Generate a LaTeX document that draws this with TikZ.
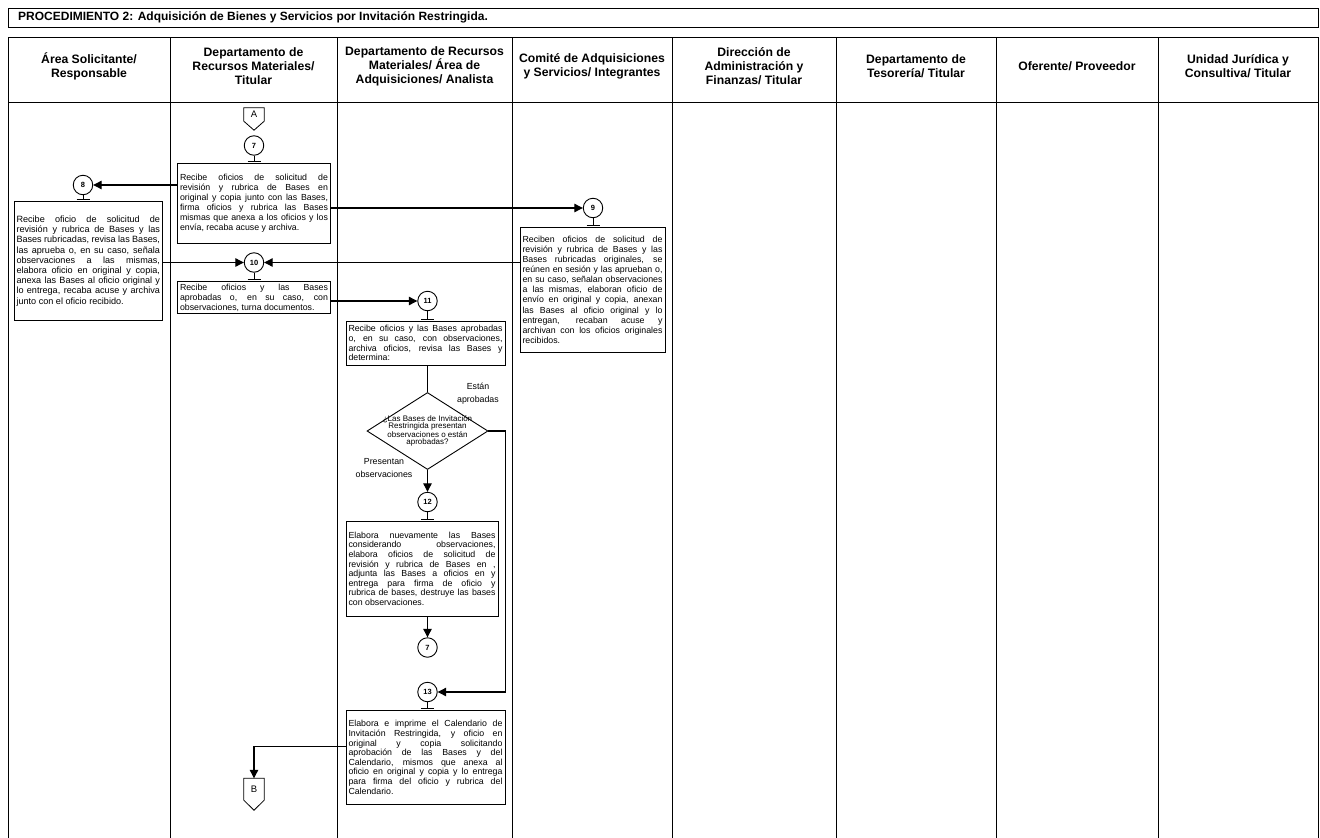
\documentclass[tikz,border=0pt]{standalone}
\usepackage{fontspec}
\setmainfont{Liberation Sans}
\usetikzlibrary{arrows.meta,shapes.geometric}
\tolerance=10000
\hbadness=10000
\hyphenpenalty=10000
\exhyphenpenalty=10000
\newcommand\mytee[2]{\draw[teel] (#1.south) -- ++(0,#2) coordinate (#1t); \draw[teel] ([xshift=-6.5pt]#1t) -- ([xshift=6.5pt]#1t);}
\begin{document}
\begin{tikzpicture}[x=1pt,y=-1pt,
  lane/.style={line width=1pt,draw=black},
  box/.style={draw=black,line width=0.8pt,fill=white,inner xsep=2.5pt,inner ysep=1pt,align=justify,font=\fontsize{8.8}{10.1}\selectfont},
  boxl/.style={box,font=\fontsize{8.8}{9.6}\selectfont},
  num/.style={circle,draw=black,line width=0.9pt,minimum size=19.5pt,inner sep=0pt,font=\fontsize{7.5}{8}\selectfont\bfseries},
  conn/.style={line width=1.1pt,draw=black},
  teel/.style={line width=0.9pt,draw=black},
  arr/.style={conn,-{Triangle[length=8.5pt,width=8.5pt]}},
  hdr/.style={align=center,font=\fontsize{12.2}{14}\selectfont\bfseries,inner sep=0pt},
  lbl/.style={align=center,inner sep=0pt,font=\fontsize{8.8}{12.8}\selectfont},
  offp/.style={minimum width=20pt,inner sep=0pt,font=\fontsize{9.5}{10}\selectfont},
]
\useasboundingbox[fill=white] (0,0) rectangle (1320,838);

% title
\draw[line width=0.9pt] (8,8) rectangle (1318,27);
\node[anchor=west,inner sep=0pt,font=\fontsize{12}{14}\selectfont\bfseries] (title) at (18,17.5)
  {PROCEDIMIENTO 2: Adquisición de Bienes y Servicios por Invitación Restringida.};

% lanes
\draw[lane] (8,37) -- (1318,37);
\draw[lane] (8,102) -- (1318,102);
\foreach \x in {8,170,337,512,672,836,996,1158,1318}{\draw[lane] (\x,37) -- (\x,838);}

\node[hdr] (h1) at (89,66) {Área Solicitante/\\Responsable};
\node[hdr] (h2) at (253.5,66) {Departamento de\\Recursos Materiales/\\Titular};
\node[hdr] (h3) at (424.5,66) {Departamento de Recursos\\Materiales/ Área de\\Adquisiciones/ Analista};
\node[hdr] (h4) at (592,66) {Comité de Adquisiciones\\y Servicios/ Integrantes};
\node[hdr] (h5) at (754,66) {Dirección de\\Administración y\\Finanzas/ Titular};
\node[hdr] (h6) at (916,66) {Departamento de\\Tesorería/ Titular};
\node[hdr] (h7) at (1077,66) {Oferente/ Proveedor};
\node[hdr] (h8) at (1238,66) {Unidad Jurídica y\\Consultiva/ Titular};

% off-page A
\node[offp,minimum height=13pt] (A) at (254,114.5) {A};
\draw[line width=0.8pt] (A.north west) -- (A.north east) -- (A.south east) -- ([yshift=-9pt]A.south) -- (A.south west) -- cycle;

% circles
\node[num] (c7) at (254,145.5) {7};
\node[num] (c8) at (83,185) {8};
\node[num] (c9) at (593,208) {9};
\node[num] (c10) at (254,262.5) {10};
\node[num] (c11) at (427.5,301) {11};
\node[num] (c12) at (427.5,502) {12};
\node[num] (c7b) at (427.5,647.5) {7};
\node[num] (c13) at (427.5,692) {13};
\mytee{c7}{6}
\mytee{c8}{4.5}
\mytee{c9}{7.5}
\mytee{c10}{7}
\mytee{c11}{8.5}
\mytee{c12}{7.5}
\mytee{c13}{6.5}

% boxes
\node[box,text width=148pt,minimum height=79.5pt] (b7) at (254,203.25)
 {Recibe oficios de solicitud de\linebreak revisión y rubrica de Bases en\linebreak original y copia junto con las Bases,\linebreak firma oficios y rubrica las Bases\linebreak mismas que anexa a los oficios y los\linebreak envía, recaba acuse y archiva.};
\node[box,text width=143.5pt,minimum height=119pt,font=\fontsize{9.1}{10.2}\selectfont] (b8) at (88.25,261)
 {Recibe oficio de solicitud de\linebreak revisión y rubrica de Bases y las\linebreak Bases rubricadas, revisa las Bases,\linebreak las aprueba o, en su caso, señala\linebreak observaciones a las mismas,\linebreak elabora oficio en original y copia,\linebreak anexa las Bases al oficio original y\linebreak lo entrega, recaba acuse y archiva\linebreak junto con el oficio recibido.};
\node[box,text width=140pt,minimum height=124.5pt] (b9) at (592.5,289.75)
 {Reciben oficios de solicitud de\linebreak revisión y rubrica de Bases y las\linebreak Bases rubricadas originales, se\linebreak reúnen en sesión y las aprueban o,\linebreak en su caso, señalan observaciones\linebreak a las mismas, elaboran oficio de\linebreak envío en original y copia, anexan\linebreak las Bases al oficio original y lo\linebreak entregan, recaban acuse y\linebreak archivan con los oficios originales\linebreak recibidos.};
\node[box,text width=148pt,minimum height=32pt] (b10) at (254,297.5)
 {Recibe oficios y las Bases\linebreak aprobadas o, en su caso, con\linebreak observaciones, turna documentos.};
\node[boxl,text width=154pt,minimum height=43.5pt] (b11) at (425.5,343.25)
 {Recibe oficios y las Bases aprobadas\linebreak o, en su caso, con observaciones,\linebreak archiva oficios, revisa las Bases y\linebreak determina:};
\node[boxl,text width=147pt,minimum height=94.5pt] (b12) at (422,568.75)
 {Elabora nuevamente las Bases\linebreak considerando observaciones,\linebreak elabora oficios de solicitud de\linebreak revisión y rubrica de Bases en ,\linebreak adjunta las Bases a oficios en y\linebreak entrega para firma de oficio y\linebreak rubrica de bases, destruye las bases\linebreak con observaciones.};
\node[boxl,text width=154pt,minimum height=93.5pt] (b13) at (425.5,757.25)
 {Elabora e imprime el Calendario de\linebreak Invitación Restringida, y oficio en\linebreak original y copia solicitando\linebreak aprobación de las Bases y del\linebreak Calendario, mismos que anexa al\linebreak oficio en original y copia y lo entrega\linebreak para firma del oficio y rubrica del\linebreak Calendario.};

% decision
\node[diamond,draw=black,line width=0.9pt,minimum width=121pt,minimum height=77pt,inner sep=0pt] (dia) at (427.5,431) {};
\node[align=center,inner sep=0pt,font=\fontsize{8}{7.4}\selectfont] (diatxt) at (dia.center)
 {¿Las Bases de Invitación\\Restringida presentan\\observaciones o están\\aprobadas?};
\node[lbl] (lyes) at (478,394) {Están\\aprobadas};
\node[lbl] (lno) at (384,468) {Presentan\\observaciones};

% off-page B
\node[offp,minimum height=21.5pt] (B) at (254,789.25) {B};
\draw[line width=0.8pt] (B.north west) -- (B.north east) -- (B.south east) -- ([yshift=-10pt]B.south) -- (B.south west) -- cycle;

% connectors
\draw[arr] (b7.west |- c8) -- (c8.east);
\draw[arr] (b7.east |- c9) -- (c9.west);
\draw[arr] (b9.west |- c10) -- (c10.east);
\draw[arr] (b8.east |- c10) -- (c10.west);
\draw[arr] (b10.east |- c11) -- (c11.west);
\draw[conn] (b11.south -| dia) -- (dia.north);
\draw[arr] (dia.east) -- ++(17,0) |- (c13.east);
\draw[arr] (dia.south) -- (c12.north);
\draw[arr] (b12.south -| c7b) -- (c7b.north);
\draw[arr] ([yshift=10.75pt]b13.west) -| (B.north);
\end{tikzpicture}
\end{document}
